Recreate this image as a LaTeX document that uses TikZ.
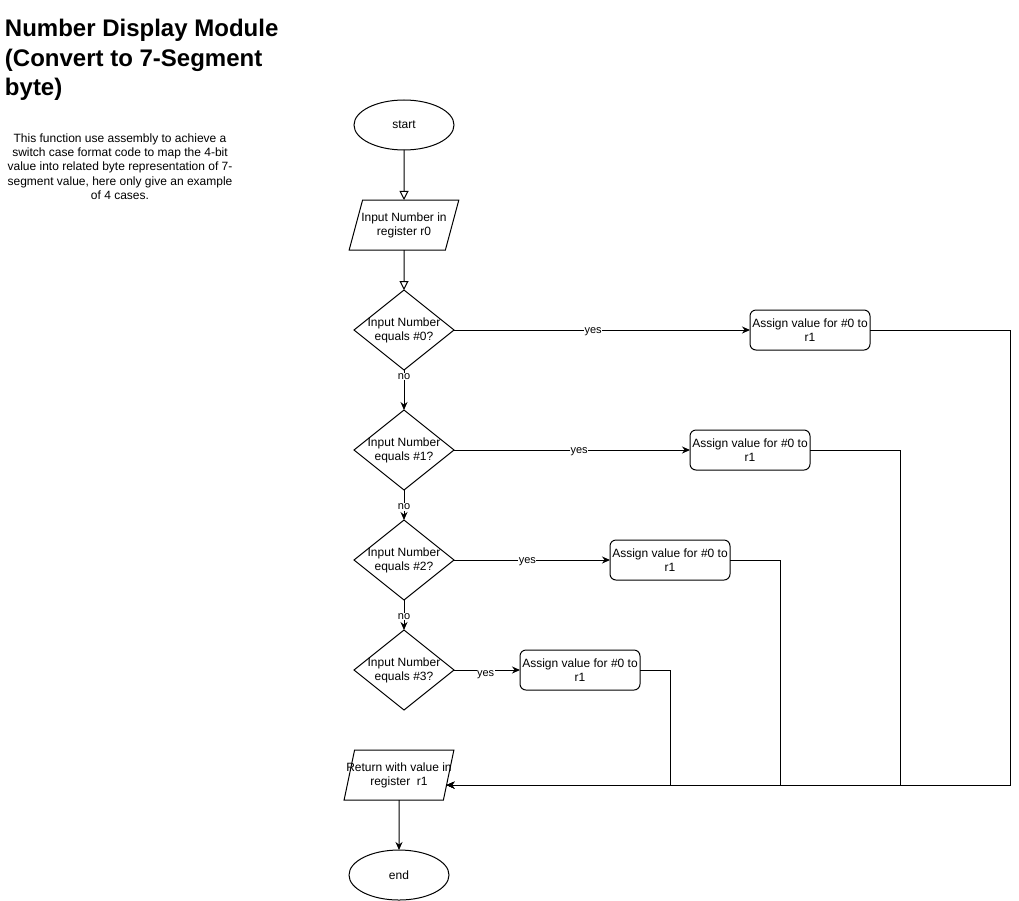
\documentclass[tikz,border=0pt]{standalone}
\usepackage{fontspec}
\setmainfont{Liberation Sans}
\usetikzlibrary{shapes.geometric, arrows.meta, positioning}

\begin{document}
\begin{tikzpicture}[
    x=1pt, y=-1pt,
    terminal/.style={ellipse, draw, line width=1pt, minimum width=100pt, minimum height=50pt, inner sep=0pt, align=center},
    io/.style={trapezium, trapezium left angle=71, trapezium right angle=109, trapezium stretches=true, draw, line width=1pt, minimum width=110pt, minimum height=50pt, inner xsep=-16pt, inner ysep=0pt, align=center},
    decision/.style={diamond, draw, line width=1pt, minimum width=100pt, minimum height=80pt, inner sep=-6pt, align=center},
    process/.style={rectangle, draw, line width=1pt, rounded corners=6pt, minimum width=120pt, minimum height=40pt, inner sep=0pt, align=center},
    arrow/.style={-{Stealth[length=8pt, width=7pt]}, line width=1pt},
    openarrow/.style={-{Triangle[open, length=9pt, width=9pt]}, line width=1pt},
    edgelabel/.style={fill=white, inner sep=0.5pt, yshift=-2pt, font=\fontsize{11}{13}\selectfont},
    every node/.append style={font=\fontsize{12}{14}\selectfont, outer sep=0pt}
]
    \useasboundingbox (0,0) rectangle (1019,901);

    % heading and description
    \node[anchor=north west, inner sep=0pt, align=left, font=\fontsize{24}{29.5}\selectfont\bfseries] (title) at (5,19.5)
        {Number Display Module\\(Convert to 7-Segment\\byte)};
    \node[anchor=north, inner sep=0pt, align=center, font=\fontsize{12}{14.4}\selectfont] (desc) at (120,133.5)
        {This function use assembly to achieve a\\switch case format code to map the 4-bit\\value into related byte representation of 7-\\segment value, here only give an example\\of 4 cases.};

    % main column
    \node[terminal] (start) at (404,125) {start};
    \node[io, below=50pt of start] (input) {Input Number in\\register r0};
    \node[decision, below=40pt of input] (case0) {Input Number\\equals \#0?};
    \node[decision, below=40pt of case0] (case1) {Input Number\\equals \#1?};
    \node[decision, below=30pt of case1] (case2) {Input Number\\equals \#2?};
    \node[decision, below=30pt of case2] (case3) {Input Number\\equals \#3?};
    \node[io, below=40pt of case3, xshift=-5pt] (ret) {Return with value in\\register~~r1};
    \node[terminal, below=50pt of ret] (end) {end};

    % assignments
    \node[process, right=296pt of case0] (assign0) {Assign value for \#0 to\\r1};
    \node[process, right=236pt of case1] (assign1) {Assign value for \#0 to\\r1};
    \node[process, right=156pt of case2] (assign2) {Assign value for \#0 to\\r1};
    \node[process, right=66pt of case3] (assign3) {Assign value for \#0 to\\r1};

    \draw[openarrow] (start) -- (input);
    \draw[openarrow] (input) -- (case0);
    \draw[arrow] (case0) -- node[edgelabel, pos=0.12] {no} (case1);
    \draw[arrow] (case1) -- node[edgelabel, pos=0.5] {no} (case2);
    \draw[arrow] (case2) -- node[edgelabel, pos=0.47] {no} (case3);
    \draw[arrow] (ret) -- (end);

    \draw[arrow] (case0) -- node[edgelabel, pos=0.47] {yes} (assign0);
    \draw[arrow] (case1) -- node[edgelabel, pos=0.53] {yes} (assign1);
    \draw[arrow] (case2) -- node[edgelabel, pos=0.47] {yes} (assign2);
    \draw[arrow] (case3) -- node[edgelabel, pos=0.48, yshift=-3pt] {yes} (assign3);

    % back to the return block
    \draw[arrow] (assign0.east) -- ++(140,0) |- (ret.-12);
    \draw[arrow] (assign1.east) -- ++(90,0) |- (ret.-12);
    \draw[arrow] (assign2.east) -- ++(50,0) |- (ret.-12);
    \draw[arrow] (assign3.east) -- ++(30,0) |- (ret.-12);
\end{tikzpicture}
\end{document}
